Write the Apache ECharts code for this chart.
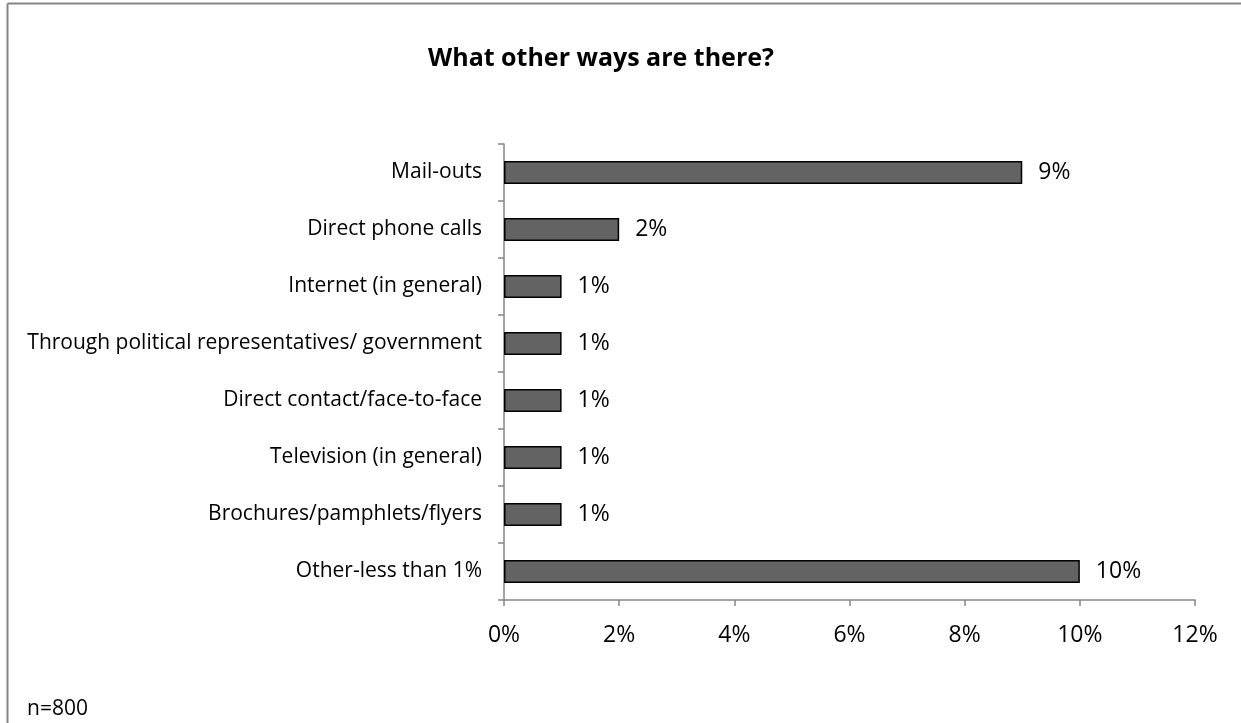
<!DOCTYPE html>
<html>
<head>
<meta charset="utf-8">
<script src="https://cdn.jsdelivr.net/npm/echarts@6/dist/echarts.min.js"></script>
<style>
  html, body { margin: 0; padding: 0; background: #fff; }
  #chart { width: 1241px; height: 723px; }
</style>
</head>
<body>
<div id="chart"></div>
<script>
// Survey answers, top to bottom as listed
const categories = [
  'Mail-outs',
  'Direct phone calls',
  'Internet (in general)',
  'Through political representatives/ government',
  'Direct contact/face-to-face',
  'Television (in general)',
  'Brochures/pamphlets/flyers',
  'Other-less than 1%'
];
const percentValues = [9, 2, 1, 1, 1, 1, 1, 10];
const axisTicks = [0, 2, 4, 6, 8, 10, 12];

const FONT = 'Open Sans';
const chart = echarts.init(document.getElementById('chart'), null, { renderer: 'canvas' });

chart.setOption({
  backgroundColor: '#ffffff',
  animation: false,
  title: {
    text: 'What other ways are there?',
    left: 596, top: 41, textAlign: 'center',
    textStyle: { fontFamily: FONT, fontWeight: 'bold', fontSize: 25, color: '#000' }
  },
  graphic: [
    { type: 'line', shape: { x1: 7.5, y1: 3.5, x2: 1241, y2: 3.5 }, style: { stroke: '#868686', lineWidth: 2 } },
    { type: 'line', shape: { x1: 7.5, y1: 3.5, x2: 7.5, y2: 723 }, style: { stroke: '#868686', lineWidth: 2 } },
    { type: 'text', left: 27, top: 699, style: { text: 'n=800', font: '21px "' + FONT + '"', fill: '#000' } }
  ],
  grid: { left: 504, right: 46, top: 144, bottom: 123, containLabel: false },
  xAxis: {
    type: 'value', min: axisTicks[0], max: axisTicks[axisTicks.length - 1], interval: 2,
    axisLine: { show: true, lineStyle: { color: '#868686', width: 1.5 } },
    axisTick: { show: true, length: 6, inside: false, lineStyle: { color: '#868686', width: 1.5 } },
    splitLine: { show: false },
    axisLabel: { formatter: '{value}%', fontFamily: FONT, fontSize: 23, color: '#000', margin: 24 }
  },
  yAxis: {
    type: 'category', data: categories, inverse: true,
    axisLine: { show: true, lineStyle: { color: '#868686', width: 1.5 } },
    axisTick: { show: true, length: 6, lineStyle: { color: '#868686', width: 1.5 } },
    axisLabel: { fontFamily: FONT, fontSize: 21, color: '#000', margin: 22 }
  },
  series: [{
    type: 'bar',
    data: percentValues,
    barWidth: 23,
    itemStyle: { color: '#636363', borderColor: '#000', borderWidth: 1.5 },
    label: {
      show: true, position: 'right', distance: 16, formatter: '{c}%',
      fontFamily: FONT, fontSize: 23, color: '#000'
    }
  }]
});
</script>
</body>
</html>
